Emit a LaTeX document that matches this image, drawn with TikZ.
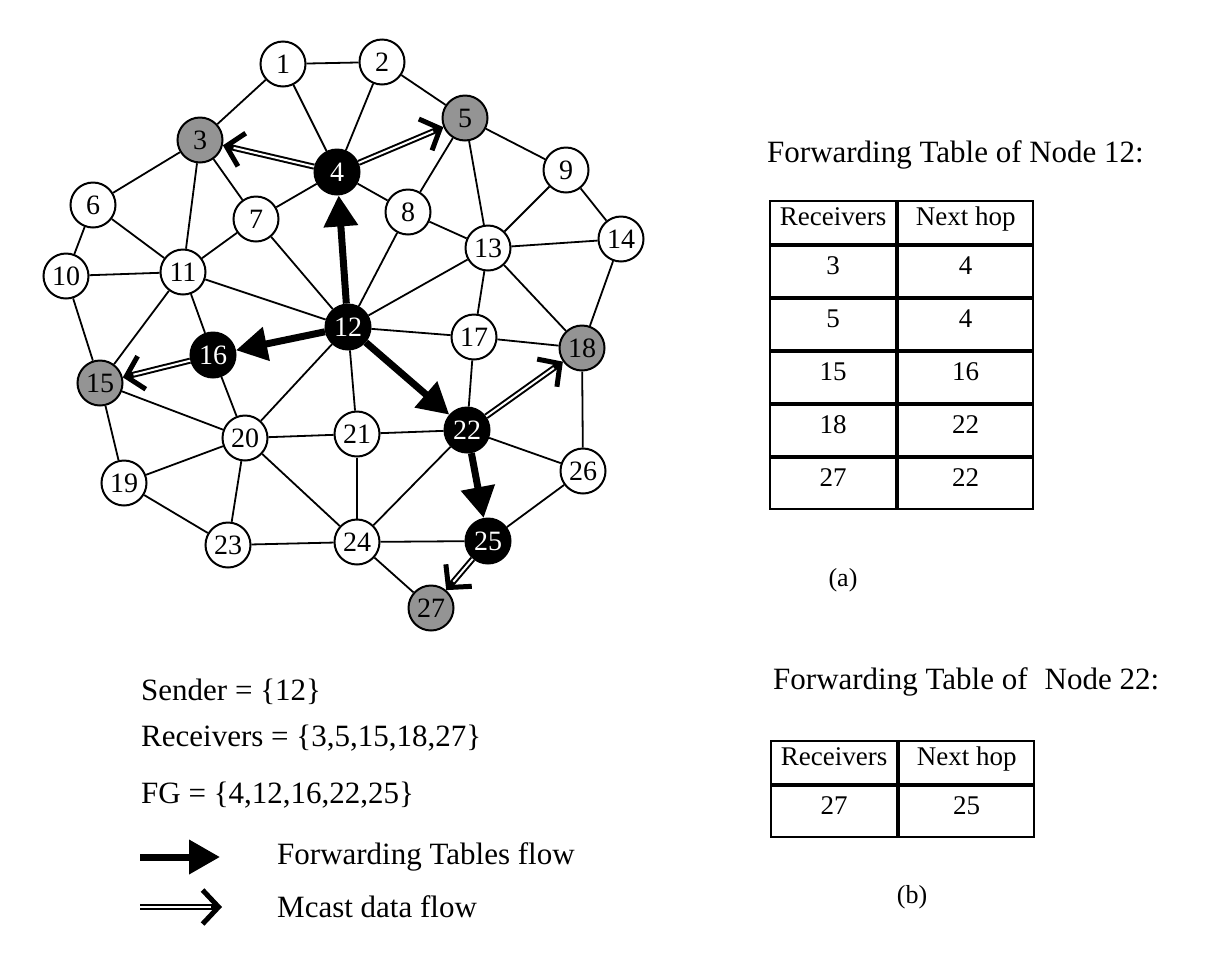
\documentclass[tikz,border=0pt]{standalone}
\usepackage{fontspec}
\setmainfont{Liberation Serif}
\usetikzlibrary{
  arrows.meta,
  matrix,
  positioning,
}
\tikzset{
  mote/.style={circle, draw, line width=2pt, minimum size=45pt,
               inner sep=0pt, fill=white,
               font=\fontsize{28}{30}\selectfont},
  fgnode/.style={mote, fill=black, text=white},
  rcvnode/.style={mote, fill=black!42},
  link/.style={line width=1.8pt},
  fwd/.style={line width=7pt, -{Triangle[length=31pt, width=33pt]}},
  mcast/.style={line width=6pt,
                -{Straight Barb[length=16pt, width=34pt, line width=5pt]},
                postaction={draw=white, line width=2pt, arrows=-,
                            shorten >=11pt}},
  caption/.style={anchor=west, inner sep=0pt,
                  font=\fontsize{31}{36}\selectfont},
  fwdtable/.style={matrix of nodes, inner sep=0pt,
                   column sep=0pt, row sep=0pt,
                   nodes={draw, line width=2pt, outer sep=0pt,
                          minimum height=51pt, text height=0.7em,
                          text depth=0.22em,
                          font=\fontsize{27}{30}\selectfont},
                   column 1/.style={nodes={minimum width=126pt}},
                   column 2/.style={nodes={minimum width=135pt}},
                   row 1/.style={nodes={minimum height=43pt}}},
}

\begin{document}
\begin{tikzpicture}[x=1pt, y=-1pt]
  \useasboundingbox (0,0) rectangle (1220,954);

  % the network
  \node [mote]    (n1)  at (283,64)  {1};
  \node [mote]    (n2)  at (382,62)  {2};
  \node [rcvnode] (n3)  at (200,140) {3};
  \node [fgnode]  (n4)  at (337,172) {4};
  \node [rcvnode] (n5)  at (465,118) {5};
  \node [mote]    (n6)  at (93,205)  {6};
  \node [mote]    (n7)  at (256,219) {7};
  \node [mote]    (n8)  at (408,212) {8};
  \node [mote]    (n9)  at (566,170) {9};
  \node [mote]    (n10) at (66,276)  {10};
  \node [mote]    (n11) at (183,272) {11};
  \node [fgnode]  (n12) at (348,327) {12};
  \node [mote]    (n13) at (488,248) {13};
  \node [mote]    (n14) at (621,239) {14};
  \node [rcvnode] (n15) at (100,383) {15};
  \node [fgnode]  (n16) at (213,355) {16};
  \node [mote]    (n17) at (474,337) {17};
  \node [rcvnode] (n18) at (582,348) {18};
  \node [mote]    (n19) at (124,483) {19};
  \node [mote]    (n20) at (245,438) {20};
  \node [mote]    (n21) at (357,434) {21};
  \node [fgnode]  (n22) at (467,430) {22};
  \node [mote]    (n23) at (228,545) {23};
  \node [mote]    (n24) at (357,542) {24};
  \node [fgnode]  (n25) at (488,541) {25};
  \node [mote]    (n26) at (583,471) {26};
  \node [rcvnode] (n27) at (431,608) {27};

  \foreach \a/\b in {1/2, 1/3, 1/4, 2/4, 2/5, 3/6, 3/7, 3/11, 4/7, 4/8,
                     5/8, 5/9, 5/13, 6/10, 6/11, 7/11, 7/12, 8/12, 8/13,
                     9/13, 9/14, 10/11, 10/15, 11/12, 11/15, 11/16, 12/13,
                     12/17, 12/20, 12/21, 13/14, 13/17, 13/18, 14/18,
                     15/19, 15/20, 16/20, 17/18, 17/22, 18/26, 19/20,
                     19/23, 20/21, 20/23, 20/24, 21/22, 21/24, 22/24,
                     22/26, 23/24, 24/25, 24/27, 25/26}
    \draw [link] (n\a) -- (n\b);

  % forwarding tables flow
  \foreach \a/\b in {12/4, 12/16, 12/22, 22/25}
    \draw [fwd] (n\a) -- (n\b);

  % multicast data
  \foreach \a/\b in {4/3, 4/5, 16/15, 22/18, 25/27}
    \draw [mcast] (n\a) -- (n\b);

  % table (a)
  \node [caption] (titleA) at (767,155) {Forwarding Table of Node 12:};
  \matrix [fwdtable, anchor=north west] (tabA) at (769,200) {
    Receivers & Next hop \\
    3  & 4  \\
    5  & 4  \\
    15 & 16 \\
    18 & 22 \\
    27 & 22 \\
  };
  \node [font=\fontsize{26}{30}\selectfont] (capA) at (843,580) {(a)};

  % table (b)
  \node [caption] (titleB) at (773,682)
        {Forwarding Table of\hspace{0.3em} Node 22:};
  \matrix [fwdtable, anchor=north west] (tabB) at (770,740) {
    Receivers & Next hop \\
    27 & 25 \\
  };
  \node [font=\fontsize{26}{30}\selectfont] (capB) at (912,897) {(b)};

  % legend
  \node [caption] (sender) at (141,692) {Sender = \{12\}};
  \node [caption] (rcvs)   at (141,738) {Receivers = \{3,5,15,18,27\}};
  \node [caption] (fgset)  at (141,795) {FG = \{4,12,16,22,25\}};
  \coordinate (fwdA) at (140,857);
  \coordinate (fwdB) at (220,857);
  \draw [fwd] (fwdA) -- (fwdB);
  \node [caption] (fwdtxt) at (277,857) {Forwarding Tables flow};
  \coordinate (mcA) at (140,907);
  \coordinate (mcB) at (222,907);
  \draw [mcast] (mcA) -- (mcB);
  \node [caption] (mctxt) at (277,907) {Mcast data flow};
\end{tikzpicture}
\end{document}
